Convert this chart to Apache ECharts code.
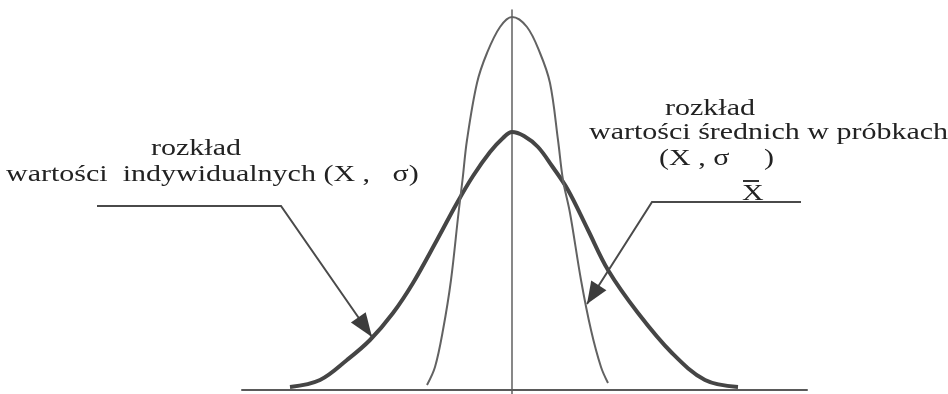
<!DOCTYPE html>
<html>
<head>
<meta charset="utf-8">
<script src="https://cdn.jsdelivr.net/npm/echarts@6/dist/echarts.min.js"></script>
<style>
  html, body { margin: 0; padding: 0; background: #ffffff; }
  #chart { width: 948px; height: 394px; }
</style>
</head>
<body>
<div id="chart"></div>
<script>
// Distribution of individual values (wide curve) and of sample means (narrow curve)
const broadX = [-22.2, -19.2, -16.5, -14.2, -11.9, -9.9, -7.5, -5.5, -3.9, -2.2, -0.9, 0, 1.2, 2.6, 4.0, 5.6, 7.6, 9.6, 12.6, 16.0, 19.3, 22.6];
const broadY = [0.3, 1.0, 3.0, 5.0, 7.7, 10.7, 15.0, 18.7, 21.4, 23.8, 25.2, 25.8, 25.4, 24.3, 22.4, 20.0, 16.0, 12.0, 7.7, 3.7, 1.0, 0.3];

const narrowX = [-8.5, -7.7, -6.9, -6.1, -5.35, -4.95, -4.5, -3.5, -2.5, -1.2, 0, 1.5, 2.8, 3.8, 4.6, 5.1, 5.8, 6.9, 7.9, 8.9, 9.6];
const narrowY = [0.5, 2.3, 6.0, 11.0, 17.7, 21.0, 25.0, 30.7, 33.7, 36.3, 37.3, 36.3, 33.7, 30.7, 25.0, 21.0, 17.7, 11.0, 6.0, 2.3, 0.7];

// Labels
const leftTitle = 'rozkład';
const leftSub = 'wartości  indywidualnych (X ,   σ)';
const rightTitle = 'rozkład';
const rightSub = 'wartości średnich w próbkach';
const rightParamOpen = '(X , σ';
const rightParamSub = 'X';
const rightParamClose = ')';

const zip = (xs, ys) => xs.map((x, i) => [x, ys[i]]);

const TEXT_COLOR = '#222222';
const SX = 1.25;

function label(text, x, y, align) {
  return {
    type: 'text', x: x, y: y, scaleX: SX, silent: true,
    style: {
      text: text, x: 0, y: 0,
      fontFamily: 'Liberation Serif', fontSize: 24,
      fill: TEXT_COLOR,
      align: align || 'left', verticalAlign: 'bottom'
    }
  };
}

// Filled arrowhead pointing from `from` toward `tip`
function arrowHead(from, tip, len, half) {
  const dx = tip[0] - from[0], dy = tip[1] - from[1];
  const d = Math.hypot(dx, dy), ux = dx / d, uy = dy / d;
  const bx = tip[0] - ux * len, by = tip[1] - uy * len;
  return {
    type: 'polygon', silent: true,
    shape: { points: [tip, [bx - uy * half, by + ux * half], [bx + uy * half, by - ux * half]] },
    style: { fill: '#3c3c3c' }
  };
}

const leftElbow = [281, 206], leftTip = [372, 337];
const rightElbow = [652, 202], rightTip = [587, 304];

const chart = echarts.init(document.getElementById('chart'));
chart.setOption({
  backgroundColor: '#ffffff',
  animation: false,
  grid: { left: 242, right: 141, top: 10, bottom: 0 },
  xAxis: {
    type: 'value', min: -27, max: 29.5,
    axisLine: { show: true, onZero: true, lineStyle: { color: '#5a5a5a', width: 2 } },
    axisTick: { show: false }, axisLabel: { show: false }, splitLine: { show: false }
  },
  yAxis: {
    type: 'value', min: -0.4, max: 38,
    axisLine: { show: true, onZero: true, lineStyle: { color: '#6a6a6a', width: 1.6 } },
    axisTick: { show: false }, axisLabel: { show: false }, splitLine: { show: false }
  },
  series: [
    {
      name: 'wartości indywidualne', type: 'line', data: zip(broadX, broadY),
      smooth: 0.35, showSymbol: false, silent: true,
      lineStyle: { color: '#454545', width: 4 }
    },
    {
      name: 'wartości średnie', type: 'line', data: zip(narrowX, narrowY),
      smooth: 0.35, showSymbol: false, silent: true,
      lineStyle: { color: '#626262', width: 2 }
    }
  ],
  graphic: [
    label(leftTitle, 196, 161, 'center'),
    label(leftSub, 6, 187),
    label(rightTitle, 710, 121, 'center'),
    label(rightSub, 589, 145),
    label(rightParamOpen, 659, 171),
    label(rightParamSub, 742, 206),
    label(rightParamClose, 764, 171),
    { type: 'line', silent: true, shape: { x1: 743, y1: 181, x2: 759, y2: 181 }, style: { stroke: '#333', lineWidth: 2 } },
    {
      type: 'polyline', silent: true,
      shape: { points: [[97, 206], leftElbow, leftTip] },
      style: { stroke: '#4a4a4a', lineWidth: 2, fill: null }
    },
    arrowHead(leftElbow, leftTip, 24, 9),
    {
      type: 'polyline', silent: true,
      shape: { points: [[801, 202], rightElbow, rightTip] },
      style: { stroke: '#4a4a4a', lineWidth: 2, fill: null }
    },
    arrowHead(rightElbow, rightTip, 22, 9)
  ]
});
</script>
</body>
</html>
